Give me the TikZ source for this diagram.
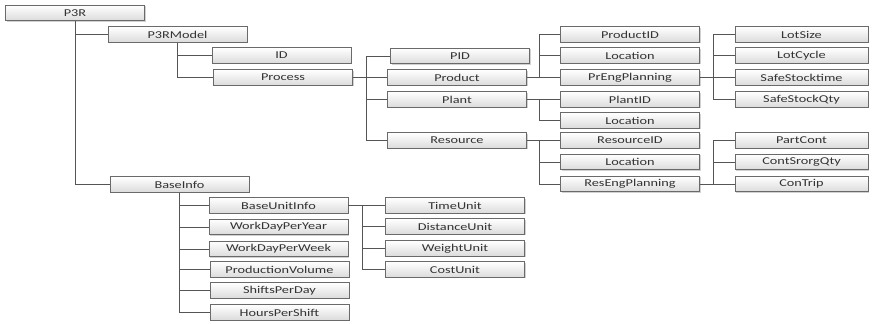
\documentclass[tikz,border=0pt]{standalone}
\usepackage{fontspec}
\newfontfamily\boxfont[FakeStretch=1.36]{Carlito}
\usetikzlibrary{shadows,calc}
\definecolor{lnc}{HTML}{555555}
\definecolor{bdc}{HTML}{6A6A6A}
\definecolor{txc}{HTML}{333333}
\tikzset{
  box/.style={draw=bdc, line width=0.8pt, rectangle, minimum height=15.5pt, minimum width=139pt,
    inner sep=0pt, top color=white, bottom color=black!14,
    drop shadow={shadow xshift=1.2pt, shadow yshift=-1.2pt, fill=black!30, opacity=0.6},
    font=\boxfont\fontsize{10.5}{12}\selectfont, text=txc},
  nbox/.style={box, minimum width=133pt},
  conn/.style={draw=lnc, line width=0.8pt}
}
\begin{document}
\begin{tikzpicture}[x=1pt,y=-1pt]
\useasboundingbox (0,0) rectangle (873,324);
% level 0-2
\node[box] (p3r) at (75,13) {P3R};
\node[box] (model) at (177.5,34.5) {P3RModel};
\node[box] (id) at (281.5,55.5) {ID};
\node[box] (process) at (283,77.5) {Process};
\node[box] (pid) at (460,56) {PID};
\node[box] (product) at (457,77.5) {Product};
\node[box] (plant) at (457,99.5) {Plant};
\node[box] (resource) at (457,140.5) {Resource};
\node[box] (productid) at (630,34.5) {ProductID};
\node[box] (loc1) at (630,55.5) {Location};
\node[box] (preng) at (630,77.5) {PrEngPlanning};
\node[box] (plantid) at (630,99.5) {PlantID};
\node[box] (loc2) at (630,120.5) {Location};
\node[box] (resid) at (630,140.5) {ResourceID};
\node[box] (loc3) at (630,162) {Location};
\node[box] (reseng) at (630,184) {ResEngPlanning};
\node[nbox] (lotsize) at (801.5,34.5) {LotSize};
\node[nbox] (lotcycle) at (801.5,55.5) {LotCycle};
\node[nbox] (sst) at (801.5,77.5) {SafeStocktime};
\node[nbox] (ssq) at (801.5,99.5) {SafeStockQty};
\node[nbox] (partcont) at (801.5,140.5) {PartCont};
\node[nbox] (contsq) at (801.5,162) {ContSrorgQty};
\node[nbox] (contrip) at (801.5,184) {ConTrip};
% BaseInfo
\node[box] (base) at (179.5,184.5) {BaseInfo};
\node[box] (bui) at (278.5,205.5) {BaseUnitInfo};
\node[box] (wdy) at (278.5,227) {WorkDayPerYear};
\node[box] (wdw) at (278.5,249) {WorkDayPerWeek};
\node[box] (pv) at (279.5,269.5) {ProductionVolume};
\node[box] (spd) at (279.5,290.5) {ShiftsPerDay};
\node[box] (hps) at (279.5,312.5) {HoursPerShift};
\node[box] (timeu) at (455,205.5) {TimeUnit};
\node[box] (distu) at (455,226.5) {DistanceUnit};
\node[box] (weightu) at (455,248.5) {WeightUnit};
\node[box] (costu) at (455,269.5) {CostUnit};
% junction coordinates
\coordinate (jproc) at ($(process.east)+(13,0)$);
\coordinate (jprod) at ($(product.east)+(12,0)$);
\coordinate (jplant) at ($(plant.east)+(12,0)$);
\coordinate (jres) at ($(resource.east)+(12,0)$);
\coordinate (jpreng) at ($(preng.east)+(13,0)$);
\coordinate (jreseng) at ($(reseng.east)+(13,0)$);
\coordinate (jbui) at ($(bui.east)+(14,0)$);
% connectors
\path[conn] (p3r.south) |- (model.west);
\path[conn] (p3r.south) |- (base.west);
\path[conn] (model.south) |- (id.west);
\path[conn] (model.south) |- (process.west);
\path[conn] (process.east) -- (jproc) |- (pid.west);
\path[conn] (jproc) |- (product.west);
\path[conn] (jproc) |- (plant.west);
\path[conn] (jproc) |- (resource.west);
\path[conn] (product.east) -- (jprod) |- (productid.west);
\path[conn] (jprod) |- (loc1.west);
\path[conn] (jprod) |- (preng.west);
\path[conn] (plant.east) -- (jplant) |- (plantid.west);
\path[conn] (jplant) |- (loc2.west);
\path[conn] (resource.east) -- (jres) |- (resid.west);
\path[conn] (jres) |- (loc3.west);
\path[conn] (jres) |- (reseng.west);
\path[conn] (preng.east) -- (jpreng) |- (lotsize.west);
\path[conn] (jpreng) |- (lotcycle.west);
\path[conn] (jpreng) |- (sst.west);
\path[conn] (jpreng) |- (ssq.west);
\path[conn] (reseng.east) -- (jreseng) |- (partcont.west);
\path[conn] (jreseng) |- (contsq.west);
\path[conn] (jreseng) |- (contrip.west);
\path[conn] (base.south) |- (bui.west);
\path[conn] (base.south) |- (wdy.west);
\path[conn] (base.south) |- (wdw.west);
\path[conn] (base.south) |- (pv.west);
\path[conn] (base.south) |- (spd.west);
\path[conn] (base.south) |- (hps.west);
\path[conn] (bui.east) -- (jbui) |- (timeu.west);
\path[conn] (jbui) |- (distu.west);
\path[conn] (jbui) |- (weightu.west);
\path[conn] (jbui) |- (costu.west);
\end{tikzpicture}
\end{document}
